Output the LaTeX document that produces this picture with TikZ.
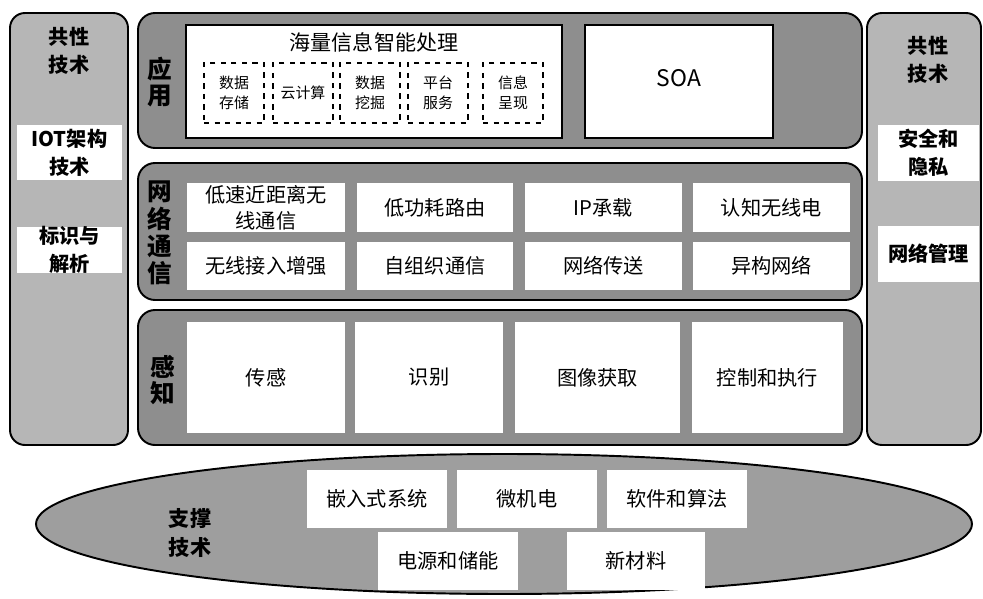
\documentclass[tikz,border=0pt]{standalone}
\usepackage{fontspec}
\setmainfont{Noto Sans CJK SC}
\usetikzlibrary{fit}
\definecolor{sidegray}{RGB}{182,182,182}
\definecolor{panelgray}{RGB}{142,142,142}
\definecolor{ellgray}{RGB}{158,158,158}
\begin{document}
\begin{tikzpicture}[x=0.02cm,y=-0.02cm,
  side/.style={draw=black, line width=1.1pt, rounded corners=0.3cm, fill=sidegray, inner sep=0pt},
  panel/.style={draw=black, line width=1.1pt, rounded corners=0.34cm, fill=panelgray, inner sep=0pt},
  wbox/.style={fill=white, inner sep=0pt, align=center, font=\fontsize{11.5}{15}\selectfont},
  abox/.style={wbox, draw=black, line width=0.9pt},
  dbox/.style={draw=black, dashed, line width=0.7pt, inner sep=0pt, align=center, font=\fontsize{8.5}{11.5}\selectfont},
  hd/.style={align=center, inner sep=0pt, font=\bfseries\fontsize{11.5}{16}\selectfont},
  hdbox/.style={wbox, font=\bfseries\fontsize{11.5}{16}\selectfont},
  vlab/.style={align=center, inner sep=0pt, font=\bfseries\fontsize{14}{14.5}\selectfont}
]
\useasboundingbox (0,0) rectangle (983,598);

% side columns
\node[side, fit={(10,13) (128,445)}] (lcol) {};
\node[side, fit={(867,13) (981,445)}] (rcol) {};
\node[hd] (lhd) at (69,51) {共性\\技术};
\node[hd] (rhd) at (928,60) {共性\\技术};
\node[hdbox, fit={(17,125) (122,180)}] (iot) {};
\node[hd] at (iot.center) {IOT架构\\技术};
\node[hdbox, fit={(17,227) (122,273)}] (bsh) {};
\node[hd] at (bsh.center) {标识与\\解析};
\node[hdbox, fit={(878,125) (979,181)}] (aq) {};
\node[hd] at (aq.center) {安全和\\隐私};
\node[hdbox, fit={(878,226) (979,282)}] (wg) {};
\node[hd] at (wg.center) {网络管理};

% application panel
\node[panel, fit={(138,13) (862,148)}] (app) {};
\node[vlab] (applab) at (160,82) {应\\用};
\node[abox, fit={(186,25) (562,138)}] (hl) {};
\node[wbox, fill=none, font=\fontsize{12}{14}\selectfont] (hlt) at (374,42) {海量信息智能处理};
\node[dbox, fit={(204,63) (264,123)}] (d1) {};
\node[dbox, draw=none] at (d1.center) {数据\\存储};
\node[dbox, fit={(273,63) (333,123)}] (d2) {};
\node[dbox, draw=none] at (d2.center) {云计算};
\node[dbox, fit={(340,63) (400,123)}] (d3) {};
\node[dbox, draw=none] at (d3.center) {数据\\挖掘};
\node[dbox, fit={(408,63) (468,123)}] (d4) {};
\node[dbox, draw=none] at (d4.center) {平台\\服务};
\node[dbox, fit={(483,63) (543,123)}] (d5) {};
\node[dbox, draw=none] at (d5.center) {信息\\呈现};
\node[abox, fit={(585,25) (773,138)}] (soa) {};
\node[font=\fontsize{13}{15}\selectfont, inner sep=0pt] at (679,78) {SOA};

% network panel
\node[panel, fit={(138,163) (862,300)}] (net) {};
\node[vlab, font=\bfseries\fontsize{14}{15.5}\selectfont] (netlab) at (160,233) {网\\络\\通\\信};
\node[wbox, fit={(187,183) (345,232)}] (n11) {};
\node[wbox] at (n11.center) {低速近距离无\\线通信};
\node[wbox, fit={(357,183) (513,232)}] (n12) {};
\node[wbox] at (n12.center) {低功耗路由};
\node[wbox, fit={(525,183) (682,232)}] (n13) {};
\node[wbox] at (n13.center) {IP承载};
\node[wbox, fit={(693,183) (850,232)}] (n14) {};
\node[wbox] at (n14.center) {认知无线电};
\node[wbox, fit={(187,242) (345,290)}] (n21) {};
\node[wbox] at (n21.center) {无线接入增强};
\node[wbox, fit={(357,242) (513,290)}] (n22) {};
\node[wbox] at (n22.center) {自组织通信};
\node[wbox, fit={(525,242) (682,290)}] (n23) {};
\node[wbox] at (n23.center) {网络传送};
\node[wbox, fit={(693,242) (850,290)}] (n24) {};
\node[wbox] at (n24.center) {异构网络};

% perception panel
\node[panel, fit={(138,310) (862,445)}] (per) {};
\node[vlab] (perlab) at (163,380) {感\\知};
\node[wbox, fit={(187,322) (345,433)}] (p1) {};
\node[wbox] at (p1.center) {传感};
\node[wbox, fit={(355,322) (503,433)}] (p2) {};
\node[wbox] at (p2.center) {识别};
\node[wbox, fit={(515,322) (680,433)}] (p3) {};
\node[wbox] at (p3.center) {图像获取};
\node[wbox, fit={(692,322) (843,433)}] (p4) {};
\node[wbox] at (p4.center) {控制和执行};

% support ellipse
\draw[line width=1.1pt, fill=ellgray] (504,524) ellipse [x radius=468, y radius=70];
\node[hd, font=\bfseries\fontsize{12}{16}\selectfont] (zc) at (190,533) {支撑\\技术};
\node[wbox, fit={(307,470) (447,528)}] (s1) {};
\node[wbox] at (s1.center) {嵌入式系统};
\node[wbox, fit={(457,470) (597,528)}] (s2) {};
\node[wbox] at (s2.center) {微机电};
\node[wbox, fit={(607,470) (747,528)}] (s3) {};
\node[wbox] at (s3.center) {软件和算法};
\node[wbox, fit={(378,532) (518,590)}] (s4) {};
\node[wbox] at (s4.center) {电源和储能};
\node[wbox, fit={(567,532) (705,590)}] (s5) {};
\node[wbox] at (s5.center) {新材料};
\end{tikzpicture}
\end{document}
